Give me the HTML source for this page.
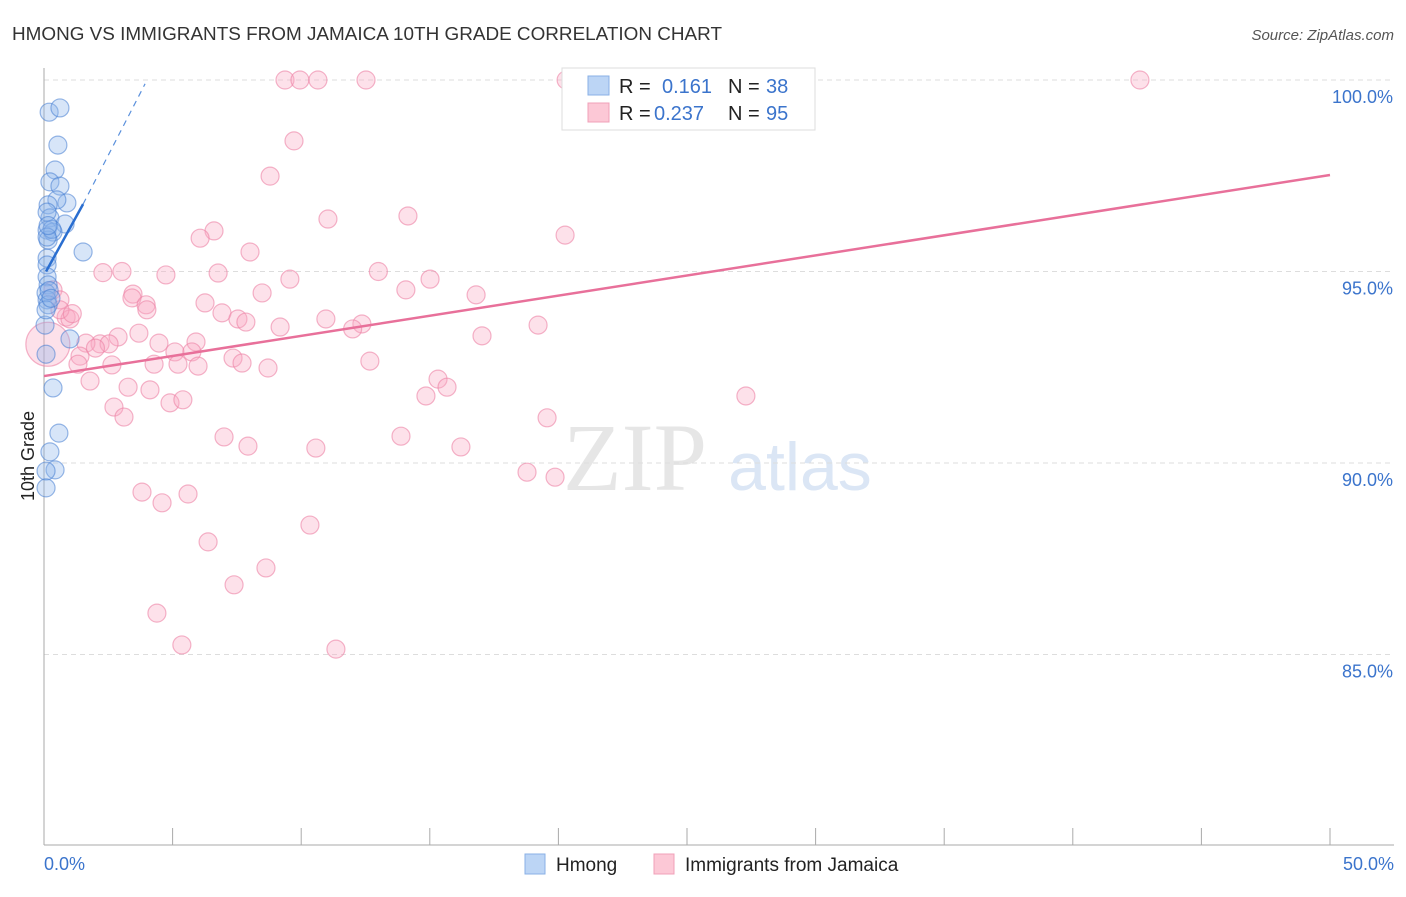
<!DOCTYPE html>
<html><head><meta charset="utf-8"><style>
body{margin:0;background:#fff;font-family:"Liberation Sans",sans-serif}
svg text{font-family:"Liberation Sans",sans-serif}
</style></head><body>
<svg id="c" width="1406" height="892" xmlns="http://www.w3.org/2000/svg">
<text x="12" y="40" font-size="18" fill="#333" textLength="710" lengthAdjust="spacingAndGlyphs">HMONG VS IMMIGRANTS FROM JAMAICA 10TH GRADE CORRELATION CHART</text>
<text x="1394" y="40" font-size="15" fill="#555" font-style="italic" text-anchor="end">Source: ZipAtlas.com</text>
<text x="635" y="490" font-size="96" fill="#e6e6e6" text-anchor="middle" style="font-family:'Liberation Serif',serif">ZIP</text>
<text x="800" y="490" font-size="68" fill="#dbe6f5" text-anchor="middle">atlas</text>
<g id="grid"></g><g id="axes"></g><g id="pink"></g><g id="blue"></g><g id="lines"></g>
<text transform="translate(34,456) rotate(-90)" font-size="18" fill="#222" text-anchor="middle">10th Grade</text>
<g>
<rect x="562" y="68" width="253" height="62" fill="#fff" stroke="#ddd"/>
<rect x="588" y="76" width="21" height="19" fill="#bcd5f5" stroke="#8ab0e6"/>
<rect x="588" y="103" width="21" height="19" fill="#fcc8d6" stroke="#f0a0b8"/>
<text x="619" y="93" font-size="20" fill="#222">R = </text><text x="662" y="93" font-size="20" fill="#3b74cc">0.161</text>
<text x="728" y="93" font-size="20" fill="#222">N = </text><text x="766" y="93" font-size="20" fill="#3b74cc">38</text>
<text x="619" y="120" font-size="20" fill="#222">R = </text><text x="654" y="120" font-size="20" fill="#3b74cc">0.237</text>
<text x="728" y="120" font-size="20" fill="#222">N = </text><text x="766" y="120" font-size="20" fill="#3b74cc">95</text>
</g>
<g>
<rect x="525" y="854" width="20" height="20" fill="#bcd5f5" stroke="#8ab0e6"/>
<text x="556" y="871" font-size="19" fill="#222">Hmong</text>
<rect x="654" y="854" width="20" height="20" fill="#fcc8d6" stroke="#f0a0b8"/>
<text x="685" y="871" font-size="19" fill="#222">Immigrants from Jamaica</text>
</g>
</svg>
<script>
const yTicks=[100,95,90,85];
const yTickLabels=["100.0%","95.0%","90.0%","85.0%"];
const xTickLabels=["0.0%","50.0%"];
const blueX=[0.2,0.62,0.54,0.43,0.23,0.62,0.89,0.5,0.16,0.23,0.82,0.12,0.35,0.16,1.52,0.12,0.12,0.12,0.16,0.08,0.12,0.16,1.01,0.08,0.35,0.58,0.23,0.43,0.08,0.08,0.04,0.12,0.31,0.2,0.08,0.12,0.27,0.16];
const blueY=[99.16,99.27,98.3,97.65,97.34,97.23,96.79,96.87,96.74,96.4,96.24,96.08,96.03,95.82,95.51,95.35,95.17,94.86,94.65,94.44,94.26,94.13,93.24,92.84,91.96,90.78,90.29,89.82,89.79,89.35,93.6,96.55,96.1,94.5,94.0,95.9,94.3,96.2];
const pinkX=[9.37,9.95,10.65,12.52,20.3,25.8,42.61,9.72,8.79,14.15,11.04,20.26,6.61,6.07,8.01,2.29,3.03,4.74,6.77,9.56,15.01,16.8,14.07,8.48,0.35,0.62,3.46,3.42,3.97,6.26,6.92,7.54,7.85,9.18,10.96,12.36,19.21,17.03,0.86,1.01,0.62,3.69,2.88,4.47,5.91,2.18,2.53,1.63,5.09,5.75,7.35,7.7,12.67,1.4,1.32,2.64,4.28,5.21,5.99,8.71,1.79,3.27,4.12,15.32,15.67,14.85,27.29,4.9,5.4,2.72,3.11,19.56,7.0,7.93,10.57,13.88,16.21,18.78,19.87,3.81,5.6,4.59,10.34,6.38,8.63,7.39,4.39,5.36,11.35,0.15,12.0,2.0,4.0,13.0,1.1];
const pinkY=[100,100,100,100,100,100,100,98.41,97.49,96.45,96.37,95.95,96.06,95.87,95.51,94.97,95.0,94.91,94.96,94.8,94.8,94.39,94.52,94.44,94.52,94.26,94.41,94.31,94.13,94.18,93.92,93.76,93.68,93.55,93.76,93.63,93.6,93.32,93.81,93.76,94.0,93.39,93.29,93.13,93.16,93.11,93.11,93.13,92.9,92.9,92.74,92.61,92.66,92.79,92.58,92.56,92.58,92.58,92.53,92.48,92.14,91.98,91.91,92.19,91.98,91.75,91.75,91.57,91.65,91.46,91.2,91.18,90.68,90.44,90.39,90.7,90.42,89.76,89.63,89.24,89.19,88.96,88.38,87.94,87.26,86.82,86.08,85.25,85.14,93.1,93.5,93.0,94.0,95.0,93.9];
const blueLine=[[0.08,95.0],[1.52,96.76]];
const blueDash=[[1.52,96.76],[3.93,99.9]];
const pinkLine=[[0,92.27],[50,97.52]];
const NS="http://www.w3.org/2000/svg";
const X=v=>44+v*25.72, Y=v=>80+(100-v)*38.3;
function mk(t,a,p){const e=document.createElementNS(NS,t);for(const k in a)e.setAttribute(k,a[k]);document.getElementById(p).appendChild(e);return e;}
yTicks.forEach((t,i)=>{
 const g=mk('line',{x1:44,x2:1394,y1:Y(t),y2:Y(t),stroke:'#ddd','stroke-dasharray':'5,4'},'grid');
 
 
 const l=mk('text',{x:1393,y:Y(t)+23,'font-size':18,fill:'#3b74cc','text-anchor':'end'},'grid');
 l.textContent=yTickLabels[i];
 
 
});
mk('line',{x1:44,x2:44,y1:68,y2:845,stroke:'#aaa'},'axes');
mk('line',{x1:44,x2:1394,y1:845,y2:845,stroke:'#aaa'},'axes');
for(let i=0;i<=10;i++){const t=mk('line',{x1:X(i*5),x2:X(i*5),y1:828,y2:845,stroke:'#aaa'},'axes');}
[[0,xTickLabels[0],'start',44],[50,xTickLabels[1],'end',1394]].forEach(d=>{const t=mk('text',{x:d[3],y:870,'font-size':18,fill:'#3b74cc','text-anchor':d[2]},'axes');t.textContent=d[1];});
pinkX.forEach((x,i)=>{const c=mk('circle',{cx:X(x),cy:Y(pinkY[i]),r:i==89?22:9,fill:'rgba(248,170,195,0.35)',stroke:'rgba(236,130,165,0.6)','stroke-width':1.2},'pink');
 
 });
blueX.forEach((x,i)=>{const c=mk('circle',{cx:X(x),cy:Y(blueY[i]),r:9,fill:'rgba(140,180,235,0.35)',stroke:'rgba(70,125,210,0.55)','stroke-width':1.2},'blue');
 
 });
function ln(d,col,w,dash,name){const e=mk('line',{x1:X(d[0][0]),y1:Y(d[0][1]),x2:X(d[1][0]),y2:Y(d[1][1]),stroke:col,'stroke-width':w},'lines');if(dash)e.setAttribute('stroke-dasharray',dash);
 
 }
ln(pinkLine,'#e8709a',2.5,null,'jamaica-trend-line');
ln(blueLine,'#2a6ed0',2.5,null,'hmong-trend-line');
ln(blueDash,'#5a90dc',1.2,'6,5','hmong-trend-extension');
</script>
</body></html>
